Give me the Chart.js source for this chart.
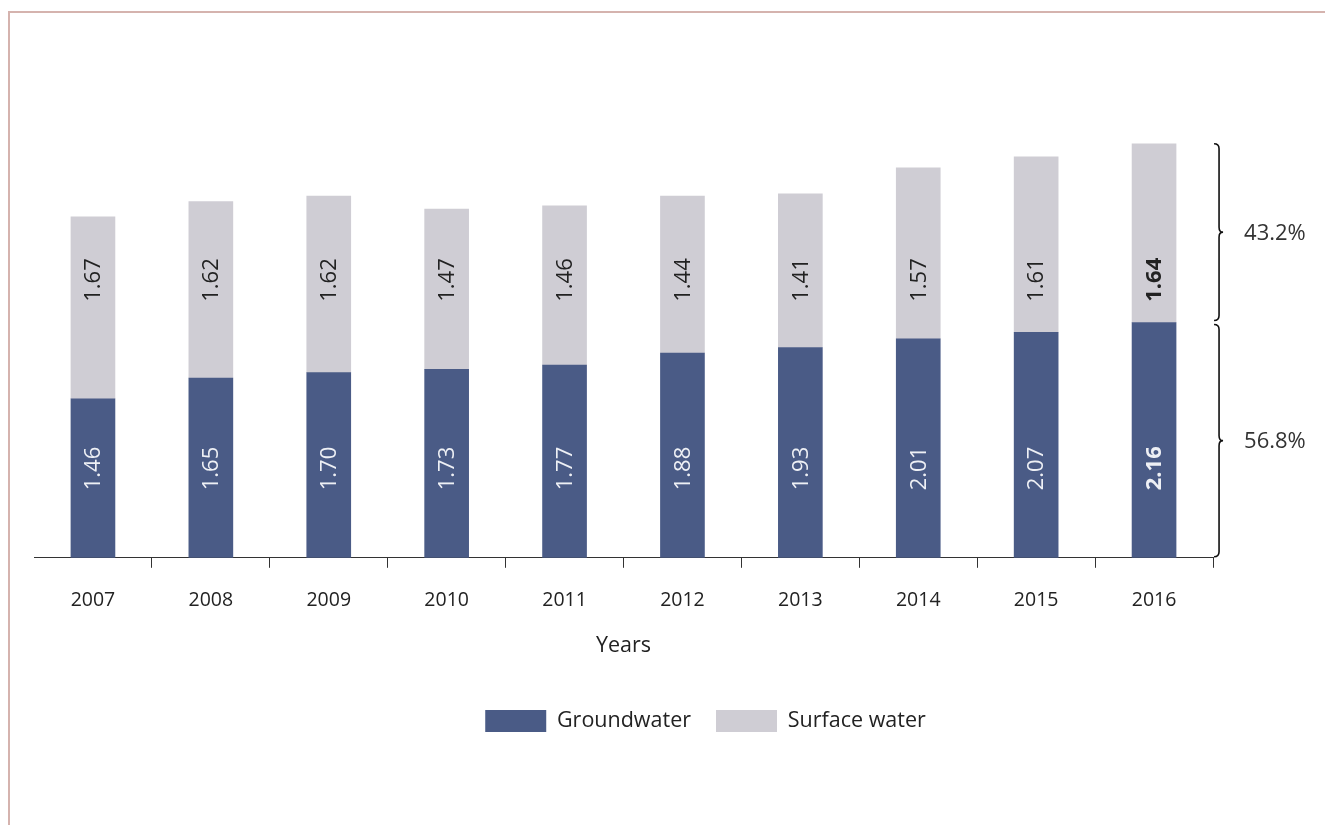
<!DOCTYPE html>
<html>
<head>
<meta charset="utf-8">
<script src="https://cdn.jsdelivr.net/npm/chart.js@4.4.1/dist/chart.umd.min.js"></script>
<style>
  html, body { margin: 0; padding: 0; background: #fff; }
  #wrap { position: relative; width: 1325px; height: 825px; }
  #frame {
    position: absolute; left: 8px; top: 11px; right: 0; bottom: 0;
    border-left: 2px solid #d5b3ae; border-top: 2px solid #d5b3ae;
  }
  #c { position: absolute; left: 0; top: 0; }
</style>
</head>
<body>
<div id="wrap">
  <div id="frame"></div>
  <canvas id="c" width="1325" height="825"></canvas>
</div>
<script>
var years = ["2007", "2008", "2009", "2010", "2011", "2012", "2013", "2014", "2015", "2016"];
var groundwater = [1.46, 1.65, 1.70, 1.73, 1.77, 1.88, 1.93, 2.01, 2.07, 2.16];
var surfaceWater = [1.67, 1.62, 1.62, 1.47, 1.46, 1.44, 1.41, 1.57, 1.61, 1.64];
var lastYearShares = ["56.8%", "43.2%"]; // groundwater, surface water (2016)

var FONT = "'Open Sans', 'DejaVu Sans', sans-serif";
var GROUND_COLOR = "#4a5b86";
var SURFACE_COLOR = "#cfcdd4";

// where the rotated value labels start (in data units along the y scale)
var labelStartAt = [0.62, 2.35];

var barLabels = {
  id: "barLabels",
  afterDatasetsDraw: function (chart) {
    var ctx = chart.ctx;
    var yScale = chart.scales.y;
    chart.data.datasets.forEach(function (ds, i) {
      var meta = chart.getDatasetMeta(i);
      var y = yScale.getPixelForValue(labelStartAt[i]);
      meta.data.forEach(function (el, j) {
        var last = j === ds.data.length - 1;
        ctx.save();
        ctx.translate(el.x, y);
        ctx.rotate(-Math.PI / 2);
        ctx.font = (last ? "bold " : "") + "22px " + FONT;
        ctx.fillStyle = i === 0 ? "#eef0f5" : "#222";
        ctx.textAlign = "left";
        ctx.textBaseline = "middle";
        ctx.fillText(ds.data[j].toFixed(2), 0, 1);
        ctx.restore();
      });
    });
  },
};

function brace(ctx, x, y0, y1) {
  var mid = (y0 + y1) / 2;
  var r = 5;
  ctx.beginPath();
  ctx.moveTo(x - r, y0);
  ctx.quadraticCurveTo(x, y0, x, y0 + r);
  ctx.lineTo(x, mid - r);
  ctx.quadraticCurveTo(x, mid, x + r - 1, mid);
  ctx.quadraticCurveTo(x, mid, x, mid + r);
  ctx.lineTo(x, y1 - r);
  ctx.quadraticCurveTo(x, y1, x - r, y1);
  ctx.stroke();
}

var shareBraces = {
  id: "shareBraces",
  afterDatasetsDraw: function (chart) {
    var ctx = chart.ctx;
    var last = years.length - 1;
    var g = chart.getDatasetMeta(0).data[last];
    var s = chart.getDatasetMeta(1).data[last];
    var x = g.x + 65;
    ctx.save();
    ctx.strokeStyle = "#111";
    ctx.lineWidth = 1.6;
    brace(ctx, x, s.y, g.y - 2);
    brace(ctx, x, g.y + 2, g.base - 1);
    ctx.font = "22px " + FONT;
    ctx.fillStyle = "#333";
    ctx.textAlign = "left";
    ctx.textBaseline = "middle";
    ctx.fillText(lastYearShares[1], x + 25, (s.y + g.y) / 2 + 1);
    ctx.fillText(lastYearShares[0], x + 25, (g.y + g.base) / 2 + 2);
    ctx.restore();
  },
};

var legendShift = {
  id: "legendShift",
  afterLayout: function (chart) {
    chart.legend.left += 82;
    chart.legend.right += 82;
  },
};

new Chart(document.getElementById("c"), {
  type: "bar",
  data: {
    labels: years,
    datasets: [
      { label: "Groundwater", data: groundwater, backgroundColor: GROUND_COLOR, barThickness: 44 },
      { label: "Surface water", data: surfaceWater, backgroundColor: SURFACE_COLOR, barThickness: 44 },
    ],
  },
  options: {
    responsive: false,
    animation: false,
    layout: { padding: { left: 34, right: 112, top: 122, bottom: 83 } },
    scales: {
      x: {
        stacked: true,
        border: { display: true, color: "#333", width: 1 },
        grid: {
          offset: true,
          drawOnChartArea: false,
          tickLength: 10,
          color: function (c) { return c.index === 0 ? "rgba(0,0,0,0)" : "#333"; },
        },
        ticks: { color: "#222", padding: 21, font: { family: FONT, size: 19.5 } },
        title: {
          display: true,
          text: "Years",
          color: "#222",
          font: { family: FONT, size: 21.5 },
          padding: { top: 0, bottom: 26 },
        },
      },
      y: { stacked: true, display: false, min: 0, max: 4.0 },
    },
    plugins: {
      legend: {
        position: "bottom",
        labels: {
          boxWidth: 61,
          boxHeight: 22,
          color: "#222",
          padding: 25,
          font: { family: FONT, size: 21.5 },
        },
      },
      tooltip: { enabled: false },
    },
  },
  plugins: [barLabels, shareBraces, legendShift],
});
</script>
</body>
</html>
